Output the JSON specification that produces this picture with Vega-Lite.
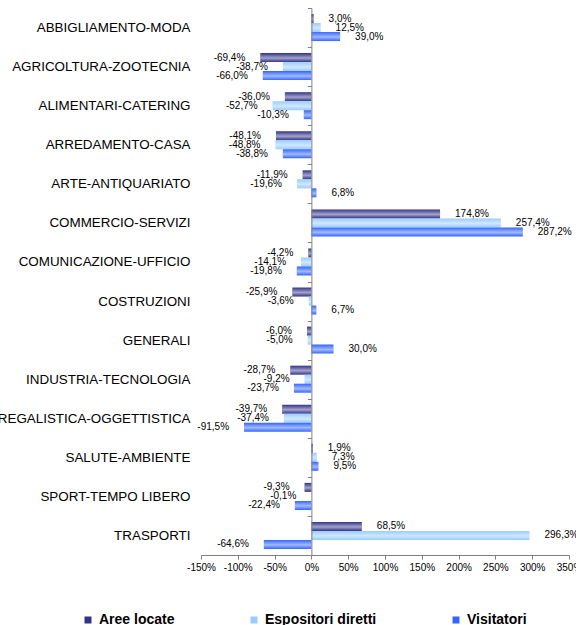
{
  "$schema": "https://vega.github.io/schema/vega-lite/v6.json",
  "autosize": {"type": "none"},
  "padding": {"left": 201, "top": 8, "right": 7, "bottom": 70},
  "width": 368,
  "height": 547,
  "background": "white",
  "config": {
    "font": "Liberation Sans",
    "view": {"stroke": null},
    "locale": {
      "number": {"decimal": ",", "thousands": ".", "grouping": [3], "currency": ["", " €"], "minus": "-"}
    }
  },
  "data": {
    "values": [
      {"settore": "ABBIGLIAMENTO-MODA", "serie": "Aree locate", "v": 0.030},
      {"settore": "ABBIGLIAMENTO-MODA", "serie": "Espositori diretti", "v": 0.125},
      {"settore": "ABBIGLIAMENTO-MODA", "serie": "Visitatori", "v": 0.390},
      {"settore": "AGRICOLTURA-ZOOTECNIA", "serie": "Aree locate", "v": -0.694},
      {"settore": "AGRICOLTURA-ZOOTECNIA", "serie": "Espositori diretti", "v": -0.387},
      {"settore": "AGRICOLTURA-ZOOTECNIA", "serie": "Visitatori", "v": -0.660},
      {"settore": "ALIMENTARI-CATERING", "serie": "Aree locate", "v": -0.360},
      {"settore": "ALIMENTARI-CATERING", "serie": "Espositori diretti", "v": -0.527},
      {"settore": "ALIMENTARI-CATERING", "serie": "Visitatori", "v": -0.103},
      {"settore": "ARREDAMENTO-CASA", "serie": "Aree locate", "v": -0.481},
      {"settore": "ARREDAMENTO-CASA", "serie": "Espositori diretti", "v": -0.488},
      {"settore": "ARREDAMENTO-CASA", "serie": "Visitatori", "v": -0.388},
      {"settore": "ARTE-ANTIQUARIATO", "serie": "Aree locate", "v": -0.119},
      {"settore": "ARTE-ANTIQUARIATO", "serie": "Espositori diretti", "v": -0.196},
      {"settore": "ARTE-ANTIQUARIATO", "serie": "Visitatori", "v": 0.068},
      {"settore": "COMMERCIO-SERVIZI", "serie": "Aree locate", "v": 1.748},
      {"settore": "COMMERCIO-SERVIZI", "serie": "Espositori diretti", "v": 2.574},
      {"settore": "COMMERCIO-SERVIZI", "serie": "Visitatori", "v": 2.872},
      {"settore": "COMUNICAZIONE-UFFICIO", "serie": "Aree locate", "v": -0.042},
      {"settore": "COMUNICAZIONE-UFFICIO", "serie": "Espositori diretti", "v": -0.141},
      {"settore": "COMUNICAZIONE-UFFICIO", "serie": "Visitatori", "v": -0.198},
      {"settore": "COSTRUZIONI", "serie": "Aree locate", "v": -0.259},
      {"settore": "COSTRUZIONI", "serie": "Espositori diretti", "v": -0.036},
      {"settore": "COSTRUZIONI", "serie": "Visitatori", "v": 0.067},
      {"settore": "GENERALI", "serie": "Aree locate", "v": -0.060},
      {"settore": "GENERALI", "serie": "Espositori diretti", "v": -0.050},
      {"settore": "GENERALI", "serie": "Visitatori", "v": 0.300},
      {"settore": "INDUSTRIA-TECNOLOGIA", "serie": "Aree locate", "v": -0.287},
      {"settore": "INDUSTRIA-TECNOLOGIA", "serie": "Espositori diretti", "v": -0.092},
      {"settore": "INDUSTRIA-TECNOLOGIA", "serie": "Visitatori", "v": -0.237},
      {"settore": "REGALISTICA-OGGETTISTICA", "serie": "Aree locate", "v": -0.397},
      {"settore": "REGALISTICA-OGGETTISTICA", "serie": "Espositori diretti", "v": -0.374},
      {"settore": "REGALISTICA-OGGETTISTICA", "serie": "Visitatori", "v": -0.915},
      {"settore": "SALUTE-AMBIENTE", "serie": "Aree locate", "v": 0.019},
      {"settore": "SALUTE-AMBIENTE", "serie": "Espositori diretti", "v": 0.073},
      {"settore": "SALUTE-AMBIENTE", "serie": "Visitatori", "v": 0.095},
      {"settore": "SPORT-TEMPO LIBERO", "serie": "Aree locate", "v": -0.093},
      {"settore": "SPORT-TEMPO LIBERO", "serie": "Espositori diretti", "v": -0.001},
      {"settore": "SPORT-TEMPO LIBERO", "serie": "Visitatori", "v": -0.224},
      {"settore": "TRASPORTI", "serie": "Aree locate", "v": 0.685},
      {"settore": "TRASPORTI", "serie": "Espositori diretti", "v": 2.963},
      {"settore": "TRASPORTI", "serie": "Visitatori", "v": -0.646}
    ]
  },
  "encoding": {
    "y": {
      "field": "settore",
      "type": "nominal",
      "sort": null,
      "scale": {"paddingInner": 0, "paddingOuter": 0},
      "axis": {
        "title": null,
        "offset": -110.4,
        "labelPadding": 117.4,
        "tickBand": "extent",
        "tickSize": 4,
        "domainColor": "#808080",
        "tickColor": "#808080",
        "labelFont": "Liberation Sans",
        "labelFontSize": 13.4,
        "labelColor": "#000000",
        "labelLimit": 0,
        "zindex": 1
      }
    },
    "yOffset": {
      "field": "serie",
      "type": "nominal",
      "scale": {"domain": ["Aree locate", "Espositori diretti", "Visitatori"], "paddingInner": 0, "paddingOuter": 0.67}
    },
    "x": {
      "field": "v",
      "type": "quantitative",
      "scale": {"domain": [-1.5, 3.5], "nice": false, "zero": false},
      "axis": {
        "title": null,
        "format": ".0%",
        "values": [-1.5, -1, -0.5, 0, 0.5, 1, 1.5, 2, 2.5, 3, 3.5],
        "grid": false,
        "tickSize": 4,
        "labelPadding": 3,
        "labelFont": "Liberation Sans",
        "labelFontSize": 10,
        "labelColor": "#000000",
        "labelFlush": false,
        "labelOverlap": false,
        "domainColor": "#808080",
        "tickColor": "#808080"
      }
    }
  },
  "layer": [
    {
      "mark": {"type": "bar"},
      "encoding": {
        "color": {
          "field": "serie",
          "type": "nominal",
          "scale": {
            "domain": ["Aree locate", "Espositori diretti", "Visitatori"],
            "range": ["#333388", "#99ccff", "#3366ff"]
          },
          "legend": {
            "orient": "none",
            "legendX": -120,
            "legendY": 605,
            "direction": "horizontal",
            "title": null,
            "symbolType": "square",
            "symbolSize": 49,
            "symbolStrokeWidth": 0,
            "symbolOpacity": 1,
            "labelFont": "Liberation Sans",
            "labelFontSize": 14,
            "labelFontWeight": "bold",
            "labelColor": "#000000",
            "labelOffset": 4,
            "columnPadding": 72
          }
        }
      }
    },
    {
      "mark": {
        "type": "bar",
        "fill": {
          "gradient": "linear",
          "x1": 0, "y1": 0, "x2": 0, "y2": 1,
          "stops": [
            {"offset": 0, "color": "rgba(255,255,255,0)"},
            {"offset": 0.55, "color": "rgba(255,255,255,0.55)"},
            {"offset": 1, "color": "rgba(255,255,255,0)"}
          ]
        }
      }
    },
    {
      "transform": [{"filter": "datum.v >= 0"}],
      "mark": {"type": "text", "align": "left", "baseline": "middle", "dx": 15, "fontSize": 10, "font": "Liberation Sans", "color": "#000000"},
      "encoding": {"text": {"field": "v", "type": "quantitative", "format": ".1%"}}
    },
    {
      "transform": [{"filter": "datum.v < 0"}],
      "mark": {"type": "text", "align": "right", "baseline": "middle", "dx": -15, "fontSize": 10, "font": "Liberation Sans", "color": "#000000"},
      "encoding": {"text": {"field": "v", "type": "quantitative", "format": ".1%"}}
    }
  ]
}
